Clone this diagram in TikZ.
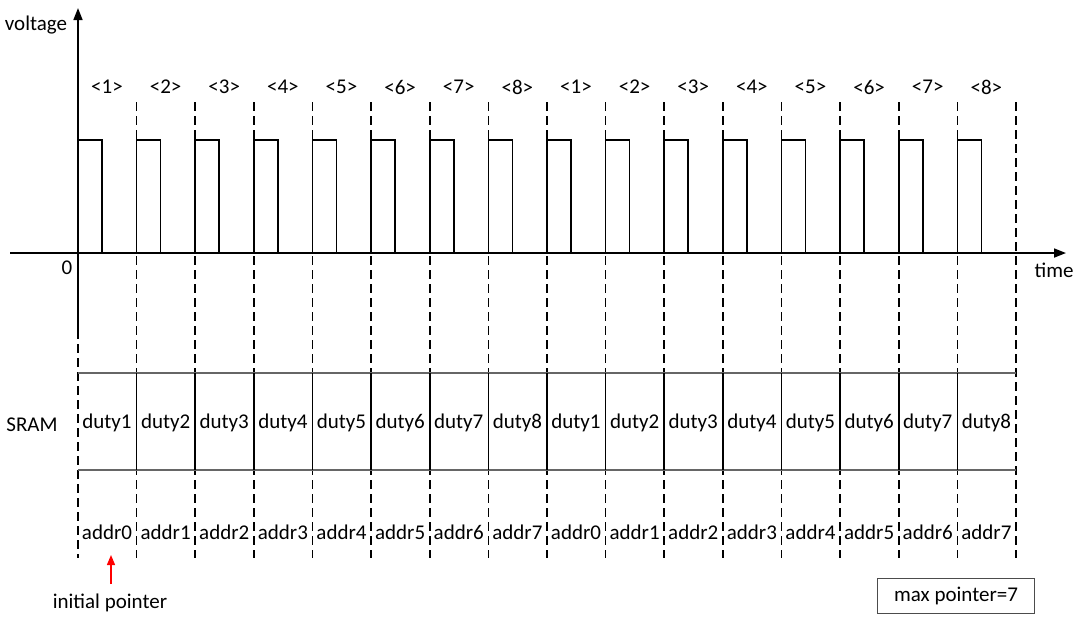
\documentclass[tikz,border=0pt]{standalone}
\usepackage{fontspec}
\setmainfont{Carlito}
\usetikzlibrary{arrows.meta,
                positioning
                }

\begin{document}
\begin{tikzpicture}[x=1pt, y=-1pt,
    every node/.style = {font=\fontsize{21}{23}\selectfont, inner sep=0pt},
    axis/.style  = {line width=1.7pt, -{Triangle[length=12pt, width=9pt]}},
    grid/.style  = {line width=1.6pt, dash pattern=on 9pt off 5pt},
    pulse/.style = {draw, line width=1.7pt},
    wall/.style  = {line width=1.6pt},
    rail/.style  = {line width=1.2pt, draw=gray!80!black}
                    ]
\useasboundingbox (0,0) rectangle (1083,622);
% axes
\coordinate (o)  at (78,253);
\coordinate (xs) at (10,253);
\coordinate (xe) at (1066,253);
\coordinate (ye) at (78,8);
\coordinate (yb) at (78,330);
\draw[axis] (xs) -- (xe);
\draw[axis] (yb) -- (ye);
\node (volt) at (36,25) {voltage};
\node (zero) at (67,268) {0};
\node (time) at (1054,270) {time};
% dashed time slots
\foreach \k in {0,...,16}
  {\coordinate (g\k) at ({78+58.625*\k},0);}
\draw[grid] (78,330) -- (78,558);
\foreach \k in {1,...,16}
  {\draw[grid] (g\k |- 0,102) -- (g\k |- 0,558);}
% pulses and slot labels
\foreach \k [evaluate=\k as \n using {int(mod(\k,8)+1)}] in {0,...,15}
  {
  \draw[pulse] (g\k |- o) |- ([xshift=24pt]g\k |- 0,140) -- ([xshift=24pt]g\k |- o);
  \node (lbl\k) at ([xshift=29pt]g\k |- 0,87) {<\n>};
  }
% SRAM
\draw[rail] (78,373) -- (1016,373);
\draw[rail, line width=1.8pt] (78,470) -- (1016,470);
\foreach \k in {1,...,15}
  {\draw[wall] (g\k |- 0,373) -- (g\k |- 0,470);}
\node (sram) at (32,425) {SRAM};
\foreach \k [evaluate=\k as \n using {int(mod(\k,8)+1)},
             evaluate=\k as \m using {int(mod(\k,8))}] in {0,...,15}
  {
  \node (d\k) at ([xshift=29pt]g\k |- 0,423) {duty\n};
  \node (a\k) at ([xshift=29pt]g\k |- 0,532) {addr\m};
  }
% pointers
\node (init) at (110,603) {initial pointer};
\coordinate (tail) at (111,584);
\coordinate (head) at (111,555);
\draw[red, line width=1.3pt, -{Triangle[length=10pt, width=8pt]}] (tail) -- (head);
\node (maxp) [draw=gray!60!black, line width=1.3pt, minimum width=157pt, minimum height=35pt]
      at (956,596) {max pointer=7};
\end{tikzpicture}
\end{document}
